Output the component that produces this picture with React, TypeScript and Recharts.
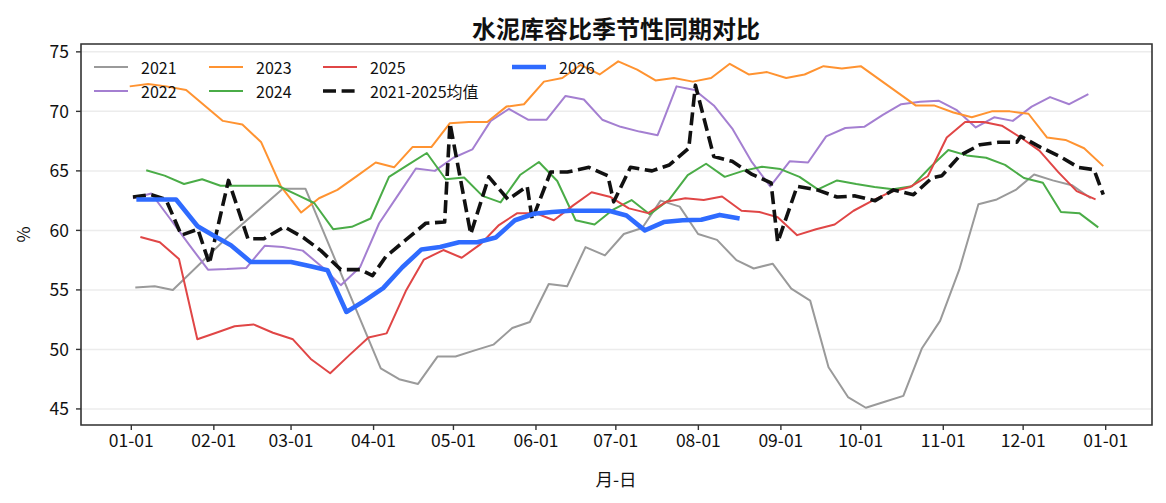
import React from 'react';
import { LineChart, Line, XAxis, YAxis, CartesianGrid, Legend, ReferenceArea } from 'recharts';

// x = day of year (leap-year calendar), y = 库容比 %
const monthTicks = [0, 31, 60, 91, 121, 152, 182, 213, 244, 274, 305, 335, 366];
const monthLabels = ['01-01', '02-01', '03-01', '04-01', '05-01', '06-01', '07-01', '08-01', '09-01', '10-01', '11-01', '12-01', '01-01'];
const yTicks = [45, 50, 55, 60, 65, 70, 75];

const s2021 = [
  [1.5, 55.2], [8.8, 55.3], [15.6, 55.0], [36.9, 59.6], [56.9, 63.5], [65.4, 63.5], [93.7, 48.4], [100.6, 47.5],
  [107.7, 47.1], [115, 49.4], [121.8, 49.4], [128.7, 49.9], [136, 50.4], [143.1, 51.8], [149.7, 52.3], [156.8, 55.5],
  [163.7, 55.3], [170.6, 58.6], [177.9, 57.9], [185, 59.7], [191.9, 60.2], [198.8, 62.5], [206, 62.0], [212.9, 59.7],
  [220, 59.2], [227.3, 57.5], [233.8, 56.8], [240.9, 57.2], [247.9, 55.1], [255, 54.1], [261.9, 48.5], [269.2, 46.0],
  [275.9, 45.1], [283, 45.6], [290, 46.1], [297, 50.1], [303.8, 52.4], [311, 56.7], [318.2, 62.2], [325.1, 62.6],
  [332.2, 63.4], [339.1, 64.7], [346.1, 64.2], [353.3, 63.8], [360.4, 62.7],
];

const s2022 = [
  [0.6, 62.7], [7.5, 63.1], [14.5, 61.0], [21.7, 58.8], [28.8, 56.7], [35.9, 56.75], [43.2, 56.85], [50.1, 58.7],
  [56.9, 58.6], [64.4, 58.3], [71.8, 56.9], [78.7, 55.4], [85.9, 56.9], [93.1, 60.6], [100, 62.9], [106.9, 65.2],
  [114, 65.0], [121, 66.1], [128.1, 66.8], [135, 69.2], [141.8, 70.2], [149, 69.3], [156, 69.3], [163.1, 71.3],
  [170, 71.0], [176.9, 69.3], [183.8, 68.7], [190.9, 68.3], [197.7, 68.0], [204.8, 72.1], [211.6, 71.8], [218.8, 70.5],
  [225.9, 68.5], [232.9, 65.8], [240, 63.7], [247.3, 65.8], [254.2, 65.7], [261, 67.9], [268.2, 68.6], [275.3, 68.7],
  [282.3, 69.7], [289.2, 70.6], [296.3, 70.8], [303.2, 70.9], [310.1, 70.1], [317.2, 68.65], [324.1, 69.5], [331.1, 69.2],
  [338.2, 70.4], [345.1, 71.2], [352.3, 70.6], [359.5, 71.45],
];

const s2023 = [
  [-0.6, 72.1], [6.3, 72.3], [13.1, 72.1], [20.6, 71.8], [34.4, 69.2], [41.7, 68.9], [48.8, 67.4], [56.2, 63.7],
  [63.8, 61.5], [70.5, 62.7], [77.4, 63.4], [84.3, 64.5], [91.8, 65.7], [98.7, 65.3], [105.6, 67.0], [112.7, 67.0],
  [119.6, 69.0], [126.8, 69.1], [133.7, 69.1], [140.9, 70.4], [147.5, 70.6], [155, 72.5], [161.9, 72.8], [168.7, 73.9],
  [175.9, 73.1], [182.9, 74.2], [190, 73.5], [196.9, 72.6], [203.8, 72.8], [210.9, 72.5], [217.8, 72.8], [224.8, 74.0],
  [231.9, 73.1], [238.8, 73.3], [246, 72.8], [252.9, 73.1], [260, 73.8], [266.9, 73.6], [274, 73.8], [294.6, 70.5],
  [301.5, 70.5], [308.8, 69.9], [315.7, 69.5], [323.2, 70.0], [330, 70.0], [337, 69.8], [344, 67.8], [350.9, 67.6],
  [357.9, 66.9], [365.1, 65.4],
];

const s2024 = [
  [5.6, 65.05], [12.5, 64.6], [19.8, 63.9], [26.6, 64.3], [33.5, 63.75], [40.5, 63.75], [47.5, 63.75], [55, 63.75],
  [62.1, 63.0], [68.7, 62.3], [75.8, 60.1], [82.8, 60.3], [89.9, 61.0], [96.8, 64.5], [103.9, 65.5], [111, 66.5],
  [118.1, 64.3], [125, 64.45], [131.9, 62.9], [138.7, 62.35], [146, 64.65], [153.1, 65.75], [160, 64.15], [166.9, 60.85],
  [174, 60.5], [181, 61.75], [187.9, 62.55], [194.7, 61.35], [201.9, 62.55], [209, 64.65], [215.9, 65.6], [222.9, 64.5],
  [229.8, 65.0], [236.9, 65.35], [243.8, 65.15], [251, 64.5], [257.9, 63.45], [265.1, 64.2], [272.3, 63.9], [279.2, 63.65],
  [286.1, 63.45], [293.2, 63.7], [300.1, 65.3], [306.9, 66.75], [313.8, 66.3], [321.1, 66.1], [328.2, 65.5], [335.3, 64.4],
  [342.4, 64.0], [349.2, 61.55], [356.1, 61.45], [363.2, 60.25],
];

const s2025 = [
  [3.4, 59.45], [10.7, 59.0], [17.9, 57.6], [24.8, 50.85], [31.9, 51.4], [38.8, 51.95], [45.9, 52.1], [53.2, 51.4],
  [60.7, 50.85], [67.4, 49.2], [74.7, 48.0], [81.8, 49.5], [89.1, 51.0], [95.9, 51.35], [103.1, 54.9], [109.9, 57.55],
  [117.2, 58.35], [124.1, 57.7], [131.2, 58.85], [138.1, 60.45], [145, 61.45], [151.9, 61.45], [158.7, 60.85], [166, 62.1],
  [172.9, 63.2], [180, 62.8], [186.9, 61.85], [194.1, 61.45], [200.9, 62.4], [208.1, 62.7], [215, 62.55], [221.9, 62.85],
  [229.2, 61.65], [235.9, 61.55], [242.8, 61.1], [250.1, 59.6], [257.2, 60.1], [264.2, 60.5], [271.3, 61.65], [278.4, 62.5],
  [285.4, 63.25], [292.6, 63.65], [299.2, 64.55], [306.3, 67.8], [313.2, 69.1], [320.1, 69.1], [327, 68.8], [334.1, 67.8],
  [341.1, 66.7], [348.2, 64.9], [355.1, 63.3], [362.2, 62.6],
];

const sAvg = [
  [0.6, 62.8], [7.4, 63.0], [13, 62.6], [18.8, 59.6], [25, 60.1], [29.3, 57.2], [36.5, 64.2], [43.8, 59.3],
  [49.8, 59.3], [57.5, 60.3], [64.6, 59.4], [71.2, 58.3], [78.7, 56.7], [86.2, 56.7], [90.6, 56.2], [95.6, 57.8],
  [103.1, 59.2], [110.6, 60.6], [117.7, 60.7], [119.7, 69.0], [127.5, 59.7], [134.3, 64.5], [141.5, 62.6], [148.7, 63.7],
  [150.6, 60.9], [157.5, 64.9], [163.8, 64.9], [171.9, 65.3], [179, 64.6], [181.2, 62.4], [187.5, 65.3], [195.6, 65.0],
  [202.1, 65.5], [209.4, 66.9], [211.9, 72.2], [218.8, 66.2], [225.7, 65.8], [233.2, 64.7], [240.3, 64.0], [242.8, 59.0],
  [250.1, 63.7], [257.6, 63.4], [265.1, 62.8], [271.9, 62.9], [279.4, 62.5], [286.3, 63.4], [293.8, 63.0], [300.7, 64.4],
  [304.5, 64.6], [311.3, 66.3], [318.8, 67.2], [325.7, 67.4], [332.6, 67.4], [334.1, 67.9], [341.4, 67.0], [348.9, 66.2],
  [355.7, 65.3], [361.6, 65.1], [365.1, 63.0],
];

const s2026 = [
  [1.9, 62.6], [8.9, 62.6], [16.8, 62.6], [24.9, 60.35], [31, 59.55], [37.4, 58.75], [44.9, 57.35], [51.7, 57.35],
  [60, 57.35], [66.9, 57.0], [73.7, 56.65], [80.8, 53.15], [87.7, 54.1], [94.6, 55.15], [101.8, 56.9], [109, 58.4],
  [116, 58.6], [123.1, 59.0], [130, 59.0], [136.9, 59.4], [144.1, 60.85], [151.2, 61.4], [158.1, 61.55], [165, 61.65],
  [172.1, 61.65], [179.4, 61.65], [186, 61.25], [192.9, 60.0], [200, 60.7], [207.1, 60.85], [214.1, 60.9], [221, 61.3],
  [228.5, 61.0],
];

const series = [
  { name: '2021', points: s2021, color: '#9a9a9a', width: 2 },
  { name: '2022', points: s2022, color: '#a47fd1', width: 2 },
  { name: '2023', points: s2023, color: '#ff9331', width: 2 },
  { name: '2024', points: s2024, color: '#4aac47', width: 2 },
  { name: '2025', points: s2025, color: '#e04646', width: 2 },
  { name: '2021-2025均值', points: sAvg, color: '#111111', width: 3.6, dash: '13 5.6' },
  { name: '2026', points: s2026, color: '#2f6bff', width: 4.6 },
];

const X_DOMAIN = [-18.9, 383.4];
const Y_DOMAIN = [43.65, 75.66];
const FONT = '"Noto Sans CJK SC", "Noto Sans", sans-serif';

// legend placed like matplotlib's ncol=4, filled column by column
const legendCols = [94, 209, 323, 512];
const legendRows = [67, 91];

function ChartLegend() {
  return (
    <div style={{ position: 'relative', width: 0, height: 0 }}>
      {series.map((s, i) => {
        const col = Math.floor(i / 2);
        const row = i % 2;
        const x = legendCols[col];
        const y = legendRows[row];
        return (
          <div key={s.name}>
            <svg style={{ position: 'absolute', left: x, top: y - 4, overflow: 'visible' }} width={36} height={8}>
              <line x1={0} y1={4} x2={34} y2={4} stroke={s.color} strokeWidth={s.width} strokeDasharray={s.dash} />
            </svg>
            <span style={{ position: 'absolute', left: x + 47, top: y - 12, lineHeight: '24px', fontSize: 16, whiteSpace: 'nowrap', color: '#111', fontFamily: FONT }}>
              {s.name}
            </span>
          </div>
        );
      })}
    </div>
  );
}

export default function App() {
  return (
    <div style={{ position: 'absolute', left: 0, top: 0, width: 1166, height: 503, background: '#fff', fontFamily: FONT }}>
      <LineChart width={1166} height={503} margin={{ top: 44, right: 14, bottom: 48, left: 21 }}>
        <CartesianGrid vertical={false} stroke="#ececec" strokeWidth={1.5} />
        <XAxis
          type="number"
          dataKey="d"
          domain={X_DOMAIN}
          allowDataOverflow
          ticks={monthTicks}
          tickFormatter={(v) => monthLabels[monthTicks.indexOf(v)]}
          height={30}
          axisLine={false}
          tickSize={5}
          tickMargin={5}
          tickLine={{ stroke: '#333', strokeWidth: 1.4 }}
          tick={{ fill: '#111', fontSize: 17.5, fontFamily: FONT }}
          interval={0}
        />
        <YAxis
          type="number"
          dataKey="v"
          domain={Y_DOMAIN}
          allowDataOverflow
          ticks={yTicks}
          width={60}
          axisLine={false}
          tickSize={5}
          tickMargin={7}
          tickLine={{ stroke: '#333', strokeWidth: 1.4 }}
          tick={{ fill: '#111', fontSize: 17.5, fontFamily: FONT }}
          interval={0}
        />
        <ReferenceArea x1={X_DOMAIN[0]} x2={X_DOMAIN[1]} y1={Y_DOMAIN[0]} y2={Y_DOMAIN[1]} fill="none" stroke="#333" strokeWidth={1.6} ifOverflow="visible" />
        {series.map((s) => (
          <Line
            key={s.name}
            name={s.name}
            data={s.points.map(([d, v]) => ({ d, v }))}
            dataKey="v"
            stroke={s.color}
            strokeWidth={s.width}
            strokeDasharray={s.dash}
            strokeLinejoin="round"
            dot={false}
            activeDot={false}
            isAnimationActive={false}
          />
        ))}
        <Legend layout="horizontal" align="center" verticalAlign="middle" content={() => <ChartLegend />} wrapperStyle={{ left: 0, top: 0, width: 0, height: 0 }} />
        <text x={616} y={27} textAnchor="middle" dominantBaseline="central" fontSize={24} fontWeight="bold" fill="#111" fontFamily={FONT}>
          水泥库容比季节性同期对比
        </text>
        <text x={616} y={478} textAnchor="middle" dominantBaseline="central" fontSize={17.5} fill="#111" fontFamily={FONT}>
          月-日
        </text>
        <text x={22} y={234.5} transform="rotate(-90 22 234.5)" textAnchor="middle" dominantBaseline="central" fontSize={17.5} fill="#111" fontFamily={FONT}>
          %
        </text>
      </LineChart>
    </div>
  );
}
